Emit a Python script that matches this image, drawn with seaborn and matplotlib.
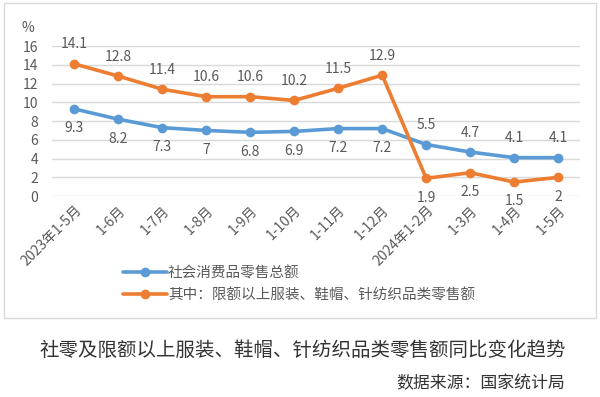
import matplotlib
matplotlib.use("Agg")
import matplotlib.pyplot as plt
import seaborn as sns
import pandas as pd
from matplotlib.patches import Rectangle
from matplotlib.lines import Line2D

# data
months = ["2023年1-5月", "1-6月", "1-7月", "1-8月", "1-9月", "1-10月",
          "1-11月", "1-12月", "2024年1-2月", "1-3月", "1-4月", "1-5月"]
retail_total = [9.3, 8.2, 7.3, 7.0, 6.8, 6.9, 7.2, 7.2, 5.5, 4.7, 4.1, 4.1]
clothing = [14.1, 12.8, 11.4, 10.6, 10.6, 10.2, 11.5, 12.9, 1.9, 2.5, 1.5, 2.0]
# label above (+1) or below (-1) each point
total_pos = [-1, -1, -1, -1, -1, -1, -1, -1, 1, 1, 1, 1]
cloth_pos = [1, 1, 1, 1, 1, 1, 1, 1, -1, -1, -1, -1]

name_total = "社会消费品零售总额"
name_cloth = "其中：限额以上服装、鞋帽、针纺织品类零售额"

sns.set_style("white")
plt.rcParams["font.family"] = ["Noto Sans CJK SC", "DejaVu Sans"]

df = pd.DataFrame({
    "x": list(range(len(months))) * 2,
    "value": retail_total + clothing,
    "series": [name_total] * len(months) + [name_cloth] * len(months),
})

palette = {name_total: "#5B9BD5", name_cloth: "#ED7D31"}
txt = "#595959"

fig = plt.figure(figsize=(6, 3.97), dpi=100)
fig.patches.append(Rectangle((0.006, 0.2), 0.988, 0.792, transform=fig.transFigure,
                             fill=False, edgecolor="#D9D9D9", linewidth=1))
ax = fig.add_axes([0.087, 0.506, 0.88, 0.378])

sns.lineplot(data=df, x="x", y="value", hue="series", palette=palette, ax=ax,
             marker="o", markersize=7, markeredgewidth=0, linewidth=2.6,
             legend=False, sort=False)

for vals, pos in ((retail_total, total_pos), (clothing, cloth_pos)):
    for i, (v, p) in enumerate(zip(vals, pos)):
        ax.annotate(f"{v:g}", (i, v), xytext=(0, 14 * p), textcoords="offset points",
                    ha="center", va="center", fontsize=10, color=txt)

ax.set_xlim(-0.5, 11.5)
ax.set_ylim(0, 16)
ax.set_yticks(range(0, 17, 2))
ax.set_xticks(range(len(months)))
ax.set_xticklabels(months, rotation=45, ha="right", rotation_mode="anchor",
                   fontsize=10, color=txt)
ax.tick_params(axis="y", labelsize=10, labelcolor=txt, length=0, pad=10)
ax.tick_params(axis="x", length=0, pad=5)
ax.grid(axis="y", color="#D9D9D9", linewidth=1)
ax.set_axisbelow(True)
for s in ax.spines.values():
    s.set_visible(False)
ax.set_xlabel("")
ax.set_ylabel("")
fig.text(0.047, 0.93, "%", fontsize=10, color=txt, ha="center", va="center")

# legend
handles = [Line2D([], [], color=palette[n], linewidth=2.6, marker="o", markersize=7,
                  markeredgewidth=0) for n in (name_total, name_cloth)]
fig.legend(handles, [name_total, name_cloth], loc="upper left",
           bbox_to_anchor=(0.195, 0.345), frameon=False, fontsize=10.5,
           labelcolor=txt, handlelength=3, handletextpad=0.1, labelspacing=0.55,
           borderaxespad=0)

fig.text(0.505, 0.118, "社零及限额以上服装、鞋帽、针纺织品类零售额同比变化趋势",
         fontsize=14, ha="center", va="center", color="#333333")
fig.text(0.942, 0.035, "数据来源：国家统计局", fontsize=12.2, ha="right",
         va="center", color="#333333")

fig.savefig("out.png", dpi=100)
